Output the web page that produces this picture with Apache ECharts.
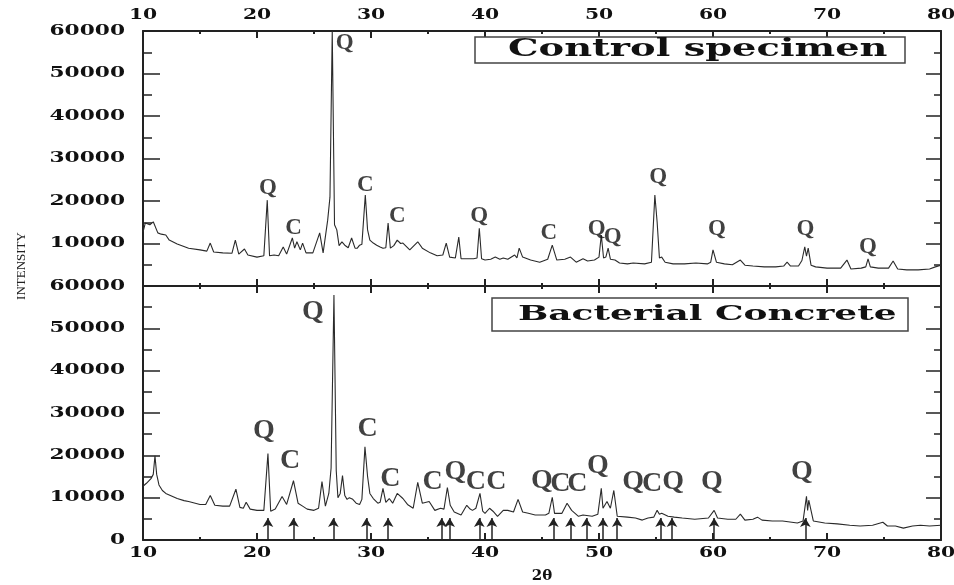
<!DOCTYPE html>
<html><head><meta charset="utf-8">
<script src="https://cdn.jsdelivr.net/npm/echarts@6/dist/echarts.min.js"></script>
<style>html,body{margin:0;padding:0;background:#fff}#c{width:954px;height:585px}</style>
</head><body><div id="c"></div>
<script>
// ---- tick labels ----
const xTicks = [10, 20, 30, 40, 50, 60, 70, 80];
const yTicks = [0, 10000, 20000, 30000, 40000, 50000, 60000];

// ---- Control specimen pattern (2θ, intensity) ----
const controlX = [10.0,10.2,10.6,10.9,11.3,11.6,12.0,12.3,13.0,14.0,15.0,15.6,15.9,16.2,17.0,17.8,18.1,18.4,18.9,19.2,20.0,20.6,20.9,21.1,21.5,21.9,22.3,22.6,23.1,23.3,23.5,23.8,24.0,24.3,24.9,25.5,25.8,26.2,26.4,26.6,26.8,27.0,27.2,27.45,27.7,28.0,28.3,28.6,28.8,29.0,29.2,29.5,29.7,29.9,30.2,30.5,30.8,31.05,31.3,31.5,31.7,32.0,32.3,32.6,32.8,33.4,34.1,34.5,35.2,35.8,36.3,36.6,36.9,37.4,37.7,37.9,38.5,39.0,39.3,39.5,39.7,40.0,40.5,40.9,41.3,41.6,42.0,42.6,42.8,43.0,43.3,44.0,44.8,45.5,45.9,46.3,47.0,47.5,48.0,48.6,49.0,49.6,50.0,50.2,50.4,50.6,50.8,51.0,51.4,51.8,52.5,53.0,54.0,54.6,54.9,55.1,55.3,55.5,55.8,56.5,57.5,58.5,59.5,59.8,60.0,60.3,61.0,61.7,62.4,62.8,63.5,64.5,65.5,66.2,66.5,66.8,67.5,67.8,68.05,68.2,68.35,68.6,69.0,70.0,71.2,71.75,72.1,73.0,73.4,73.6,73.8,74.5,75.4,75.8,76.2,77.0,78.0,79.0,79.5,80.0];
const controlY = [12700,14800,14400,15100,12500,12200,12000,10800,9900,8900,8500,8200,10100,8000,7800,7700,10800,7500,8700,7300,6800,7100,20200,7100,7300,7100,9200,7500,11300,8900,10400,8500,10100,7800,7800,12500,7800,15500,20900,60000,14400,13200,9500,10400,9600,9000,11300,8900,8900,9600,9800,21400,13200,10800,10100,9600,9200,8900,9000,14800,8900,9500,10800,10000,10100,8500,10400,8900,7800,7100,7300,10100,6800,6600,11500,6400,6400,6400,6600,13600,6400,6100,6300,6800,6300,6600,6300,7300,6600,8900,6800,6100,5600,6300,9600,6100,6300,6800,5600,6400,5900,6100,6800,12000,6600,6800,8900,6300,6100,5400,5200,5400,5200,5600,21400,15000,6600,6800,5600,5200,5200,5400,5200,5600,8500,5600,5200,5000,6100,4900,4700,4500,4500,4700,5600,4700,4700,6000,9200,7000,8900,4900,4500,4200,4200,6100,4000,4200,4500,6400,4500,4200,4200,5900,4000,3800,3800,4000,4500,4900];

// ---- Bacterial concrete pattern (2θ, intensity) ----
const bacterialX = [10.0,10.3,10.7,10.9,11.05,11.2,11.4,11.7,12.0,13.0,13.6,14.0,15.0,15.5,15.9,16.3,17.0,17.6,18.15,18.5,18.8,19.05,19.4,20.0,20.6,20.96,21.2,21.6,22.2,22.6,23.2,23.6,24.0,24.4,25.0,25.4,25.7,26.0,26.3,26.5,26.75,26.95,27.1,27.3,27.5,27.7,27.9,28.1,28.4,28.7,29.0,29.2,29.47,29.7,29.9,30.2,30.6,30.8,31.05,31.3,31.6,31.9,32.3,32.8,33.2,33.7,34.1,34.5,35.1,35.6,36.1,36.4,36.7,36.95,37.3,37.9,38.4,38.7,38.9,39.2,39.56,39.8,40.0,40.4,40.7,41.1,41.6,42.0,42.5,42.9,43.3,43.8,44.4,45.3,45.6,45.9,46.1,46.75,47.2,47.6,48.2,48.6,49.4,49.9,50.2,50.35,50.7,51.0,51.3,51.6,52.5,53.2,53.8,54.3,54.8,55.1,55.3,55.5,56.05,56.6,57.3,58.4,59.6,60.1,60.4,61.3,62.0,62.4,62.8,63.5,63.9,64.3,65.2,66.1,67.4,67.9,68.2,68.3,68.4,68.8,69.8,70.9,72.0,72.9,74.0,74.9,75.3,76.0,76.7,77.5,78.2,79.0,80.0];
const bacterialY = [12700,13400,14500,15500,19900,15500,13000,11700,11000,9800,9300,9100,8400,8400,10500,8200,8000,8000,12000,7700,7500,8900,7300,7000,7000,20400,6800,7300,10300,8400,14000,8700,8000,7300,7000,7500,13800,8000,11000,17000,57900,16400,10000,11000,15200,10500,9600,10000,9600,8700,8400,9600,22000,15000,11000,9800,8700,8900,12200,8900,9800,8700,11000,9800,8400,7500,13600,8700,9100,7000,7500,7300,12400,8200,6600,5900,8200,7300,7000,7500,11000,6800,6300,7500,6800,5600,7000,7000,6600,9600,6600,6300,5900,5900,6300,10100,6300,6300,8700,7000,5600,5900,5600,6100,12200,7500,9100,7500,11700,5600,5400,5200,4700,5200,5400,7000,6100,6300,5600,5400,5200,4900,5200,7000,5200,4900,4900,6100,4700,4900,5400,4700,4500,4500,4000,4500,10300,7000,9400,4500,4000,3800,3500,3300,3500,4200,3300,3300,2800,3300,3500,3300,3500];

// ---- peak annotations ----
const controlLabelText = ['Q','Q','C','C','C','Q','C','Q','Q','Q','Q','Q','Q'];
const controlLabelX    = [27.7,20.96,23.2,29.5,32.3,39.5,45.6,49.8,51.2,55.2,60.35,68.1,73.6];
const controlLabelY    = [57200,23000,13600,23800,16500,16500,12500,13400,11500,25700,13400,13400,9200];

const bacterialLabelText = ['Q','Q','C','C','C','C','Q','C','C','Q','C','C','Q','Q','C','Q','Q','Q'];
const bacterialLabelX    = [24.9,20.6,22.9,29.7,31.7,35.4,37.4,39.2,41.0,45.0,46.6,48.1,49.9,53.0,54.65,56.5,59.9,67.8];
const bacterialLabelY    = [53900,25800,18800,26300,14500,13800,16200,13800,13800,14100,13400,13400,17600,13800,13400,13800,13800,16200];

// ---- arrow markers (bacterial concrete) ----
const arrowX = [20.96,23.2,26.7,29.6,31.5,36.2,36.9,39.5,40.6,46.0,47.5,48.9,50.35,51.6,55.4,56.4,60.1,68.1];
const arrowTop = 5200;

const panelTitles = ['Control specimen', 'Bacterial Concrete'];

const zip = (xs, ys) => xs.map((x, i) => [x, ys[i]]);
const labelData = (t, xs, ys) => t.map((s, i) => [xs[i], ys[i], s]);

const chart = echarts.init(document.getElementById('c'), null, {renderer: 'canvas'});
const lineCol = '#222';

function xAx(grid, pos, extra) {
  return Object.assign({
    type: 'value', gridIndex: grid, position: pos, min: xTicks[0], max: xTicks[xTicks.length - 1], interval: 10,
    axisLine: {show: true, onZero: false, lineStyle: {color: lineCol, width: 2}},
    axisTick: {show: true, inside: true, length: 7, lineStyle: {color: lineCol, width: 2}},
    minorTick: {show: true, splitNumber: 2, length: 3, lineStyle: {color: lineCol, width: 2}},
    splitLine: {show: false},
    axisLabel: {show: false}
  }, extra || {});
}
function yAx(grid, pos) {
  return {
    type: 'value', gridIndex: grid, position: pos, min: yTicks[0], max: yTicks[yTicks.length - 1], interval: 10000,
    axisLine: {show: true, onZero: false, lineStyle: {color: lineCol, width: 2}},
    axisTick: {show: true, inside: true, length: pos === 'left' ? 17 : 15, lineStyle: {color: lineCol, width: 1.5}},
    minorTick: {show: true, splitNumber: 2, length: pos === 'left' ? 9 : 7, lineStyle: {color: lineCol, width: 1.5}},
    splitLine: {show: false},
    axisLabel: {show: false}
  };
}

const labelStyle = (size) => ({
  show: true, position: 'inside', formatter: p => p.value[2],
  fontFamily: 'Liberation Serif', fontWeight: 'bold', fontSize: size, color: '#111'
});

chart.setOption({
  animation: false,
  backgroundColor: '#fff',
  grid: [
    {left: 143, top: 31, width: 798, height: 255},
    {left: 143, top: 286, width: 798, height: 256}
  ],
  xAxis: [
    xAx(0, 'top'),
    xAx(0, 'bottom'),
    xAx(1, 'top'),
    xAx(1, 'bottom', {name: '2θ', nameLocation: 'middle', nameGap: 29,
      nameTextStyle: {fontFamily: 'DejaVu Serif', fontWeight: 'bold', fontSize: 15, color: '#111'}})
  ],
  yAxis: [
    yAx(0, 'left'),
    yAx(0, 'right'),
    yAx(1, 'left'),
    yAx(1, 'right')
  ],
  series: [
    {type: 'line', name: panelTitles[0], xAxisIndex: 0, yAxisIndex: 0, data: zip(controlX, controlY),
      showSymbol: false, symbol: 'none', clip: true, lineStyle: {color: '#2a2a2a', width: 1.1}},
    {type: 'line', name: panelTitles[1], xAxisIndex: 3, yAxisIndex: 2, data: zip(bacterialX, bacterialY),
      showSymbol: false, symbol: 'none', clip: true, lineStyle: {color: '#2a2a2a', width: 1.1},
      markLine: {silent: true, symbol: ['none', 'arrow'], symbolSize: [8, 9], label: {show: false},
        lineStyle: {color: '#222', width: 1.5, type: 'solid'}, emphasis: {disabled: true},
        data: arrowX.map(x => [{coord: [x, 0]}, {coord: [x, arrowTop]}])}},
    {type: 'scatter', xAxisIndex: 0, yAxisIndex: 0, symbolSize: 0, z: 5, silent: true,
      data: labelData(controlLabelText, controlLabelX, controlLabelY), label: labelStyle(23)},
    {type: 'scatter', xAxisIndex: 3, yAxisIndex: 2, symbolSize: 0, z: 5, silent: true,
      data: labelData(bacterialLabelText, bacterialLabelX, bacterialLabelY), label: labelStyle(28)}
  ]
});

// ---- text elements: panel titles, axis title, and wide tick labels placed via the axes' scales ----
const tickFont = {fontFamily: 'DejaVu Serif', fontWeight: 'bold', fontSize: 14, fill: '#111'};
const gfx = [
  {type: 'rect', shape: {x: 475, y: 37, width: 430, height: 26}, style: {fill: '#fff', stroke: '#444', lineWidth: 1.5}, z: 10},
  {type: 'text', x: 508, y: 50, scaleX: 1.6, z: 11,
    style: {text: panelTitles[0], fontFamily: 'DejaVu Serif', fontWeight: 'bold', fontSize: 24, fill: '#111',
      align: 'left', verticalAlign: 'middle'}},
  {type: 'rect', shape: {x: 492, y: 298, width: 416, height: 33}, style: {fill: '#fff', stroke: '#444', lineWidth: 1.5}, z: 10},
  {type: 'text', x: 518, y: 315, scaleX: 1.71, z: 11,
    style: {text: panelTitles[1], fontFamily: 'DejaVu Serif', fontWeight: 'bold', fontSize: 21, fill: '#111',
      align: 'left', verticalAlign: 'middle'}},
  {type: 'text', x: 22, y: 266, rotation: Math.PI / 2, z: 11,
    style: {text: 'INTENSITY', fontFamily: 'Liberation Serif', fontSize: 13, fill: '#222',
      align: 'center', verticalAlign: 'middle'}}
];
const topEdge = chart.convertToPixel({yAxisIndex: 0}, yTicks[yTicks.length - 1]);
const bottomEdge = chart.convertToPixel({yAxisIndex: 2}, yTicks[0]);
const leftEdge = chart.convertToPixel({xAxisIndex: 0}, xTicks[0]);
xTicks.forEach(v => {
  const px = chart.convertToPixel({xAxisIndex: 0}, v);
  gfx.push({type: 'text', x: px, y: topEdge - 16, scaleX: 1.45, z: 12,
    style: Object.assign({text: String(v), align: 'center', verticalAlign: 'middle'}, tickFont)});
  const pb = chart.convertToPixel({xAxisIndex: 3}, v);
  gfx.push({type: 'text', x: pb, y: bottomEdge + 13, scaleX: 1.45, z: 12,
    style: Object.assign({text: String(v), align: 'center', verticalAlign: 'middle'}, tickFont)});
});
yTicks.forEach(v => {
  if (v !== 0) {
    const py = chart.convertToPixel({yAxisIndex: 0}, v);
    gfx.push({type: 'text', x: leftEdge - 18, y: py, scaleX: 1.55, z: 12,
      style: Object.assign({text: String(v), align: 'right', verticalAlign: 'middle'}, tickFont)});
  }
  const pb = chart.convertToPixel({yAxisIndex: 2}, v);
  gfx.push({type: 'text', x: leftEdge - 18, y: pb, scaleX: 1.55, z: 12,
    style: Object.assign({text: String(v), align: 'right', verticalAlign: 'middle'}, tickFont)});
});
chart.setOption({graphic: gfx});
</script></body></html>
